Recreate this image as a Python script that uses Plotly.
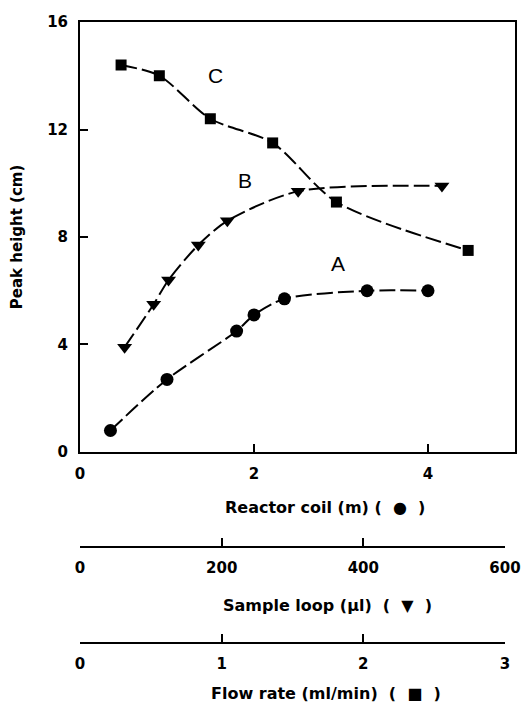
import plotly.graph_objects as go

# Curve A: peak height vs reactor coil length (m)
reactor_coil_m = [0.35, 1.0, 1.8, 2.0, 2.35, 3.3, 4.0]
peak_A = [0.8, 2.7, 4.5, 5.1, 5.7, 6.0, 6.0]

# Curve B: peak height vs sample loop volume (µl)
sample_loop_ul = [63, 104, 125, 167, 208, 308, 511]
peak_B = [3.9, 5.5, 6.4, 7.7, 8.6, 9.7, 9.9]

# Curve C: peak height vs flow rate (ml/min)
flow_rate_ml_min = [0.29, 0.56, 0.92, 1.36, 1.81, 2.74]
peak_C = [14.4, 14.0, 12.4, 11.5, 9.3, 7.5]

reactor_ticks = [0, 2, 4]
loop_ticks = [0, 200, 400, 600]
flow_ticks = [0, 1, 2, 3]
peak_ticks = [0, 4, 8, 12, 16]

FONT = "DejaVu Sans"
tickfont = dict(family=FONT, size=15, color="black", weight="bold")
line_style = dict(color="black", width=2, dash="16px,5px", shape="spline", smoothing=0.8)

fig = go.Figure()
fig.add_trace(go.Scatter(x=reactor_coil_m, y=peak_A, mode="lines+markers",
                         line=line_style,
                         marker=dict(symbol="circle", size=13, color="black"),
                         xaxis="x", yaxis="y", showlegend=False))
fig.add_trace(go.Scatter(x=sample_loop_ul, y=peak_B, mode="lines+markers",
                         line=line_style,
                         marker=dict(symbol="triangle-down", size=13, color="black"),
                         xaxis="x2", yaxis="y", showlegend=False))
fig.add_trace(go.Scatter(x=flow_rate_ml_min, y=peak_C, mode="lines+markers",
                         line=line_style,
                         marker=dict(symbol="square", size=11, color="black"),
                         xaxis="x3", yaxis="y", showlegend=False))

axis_common = dict(showline=True, linecolor="black", linewidth=2, showgrid=False,
                   zeroline=False, ticks="inside", ticklen=8, tickwidth=2,
                   tickcolor="black", tickfont=tickfont, ticklabelstandoff=7,
                   automargin=False)

# the page body adds an 8px offset, so margins are reduced on left/top
fig.update_layout(
    width=531, height=704,
    margin=dict(l=72, r=24, t=14, b=69),
    paper_bgcolor="white", plot_bgcolor="rgba(0,0,0,0)",
    xaxis=dict(axis_common, domain=[0, 1], range=[0, 5], tickvals=reactor_ticks,
               anchor="y", mirror=True),
    yaxis=dict(axis_common, domain=[0.3076, 1], range=[0, 16], tickvals=peak_ticks,
               anchor="x", mirror=True),
    xaxis2=dict(axis_common, domain=[0, 0.977], range=[0, 600], tickvals=loop_ticks,
                anchor="free", position=0.1546),
    xaxis3=dict(axis_common, domain=[0, 0.977], range=[0, 3], tickvals=flow_ticks,
                anchor="free", position=0),
)

title_font = dict(family=FONT, size=16, color="black", weight="bold")
nb = "\u00a0"
common_ann = dict(xref="paper", yref="paper", showarrow=False, font=title_font,
                  xanchor="center", yanchor="middle")
letter_font = dict(family="Liberation Sans", size=21, color="black")
annotations = [
    dict(common_ann, text="Peak height (cm)", x=-0.145, y=0.655, textangle=-90,
         font=dict(title_font, size=15)),
    dict(common_ann, text=f"Reactor coil (m){nb}({nb}{nb}●{nb}{nb})", x=0.563, y=0.219),
    dict(common_ann, text=f"Sample loop (µl){nb}{nb}({nb}{nb}▼{nb}{nb})", x=0.57, y=0.061),
    dict(common_ann, text=f"Flow rate (ml/min){nb}{nb}({nb}{nb}■{nb}{nb})", x=0.566, y=-0.081),
    dict(text="A", x=2.96, y=7.0, xref="x", yref="y", showarrow=False, font=letter_font),
    dict(text="B", x=1.9, y=10.1, xref="x", yref="y", showarrow=False, font=letter_font),
    dict(text="C", x=1.56, y=14.0, xref="x", yref="y", showarrow=False, font=letter_font),
]
fig.update_layout(annotations=annotations)

fig.write_html("out.html")
